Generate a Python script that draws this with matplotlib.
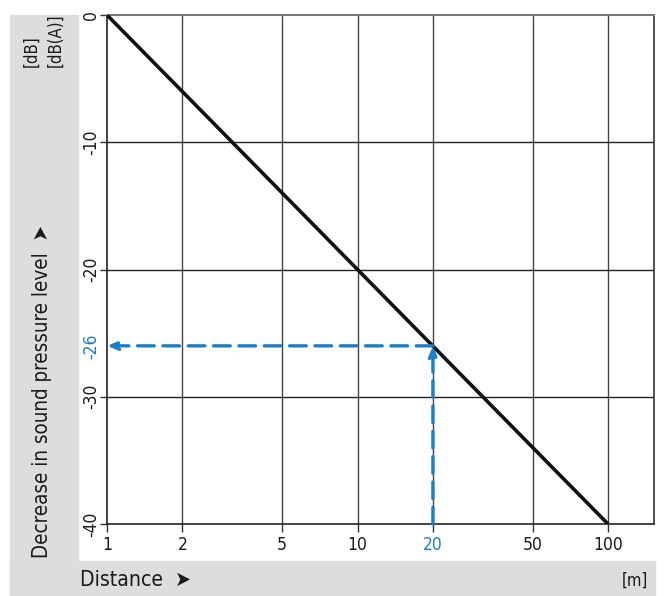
import matplotlib
matplotlib.use("Agg")
import matplotlib.pyplot as plt
from matplotlib.patches import Rectangle

# Data
distance = [1, 100]
decrease = [0, -40]
xticks = [1, 2, 5, 10, 20, 50, 100]
xticklabels = ["1", "2", "5", "10", "20", "50", "100"]
yticks = [0, -10, -20, -30, -40]
yticklabels = ["0", "-10", "-20", "-30", "-40"]
example_distance = 20
example_level = -26

FONT = ["DejaVu Sans"]
plt.rcParams["font.family"] = FONT
plt.rcParams["font.stretch"] = "condensed"
BLUE = "#1a7fc9"
INK = "#1a1a1a"

W, H = 667, 596
fig = plt.figure(figsize=(W / 100, H / 100), dpi=100)
fig.patch.set_facecolor("white")

def fx(px):
    return px / W

def fy(py):
    return 1 - py / H

gray = "#dcdddf"
fig.patches.append(Rectangle((fx(10), fy(596)), fx(78) - fx(10), fy(15) - fy(596),
                             transform=fig.transFigure, color=gray, zorder=0))
fig.patches.append(Rectangle((fx(10), fy(596)), fx(655) - fx(10), fy(561) - fy(596),
                             transform=fig.transFigure, color=gray, zorder=0))

ax = fig.add_axes([fx(107), fy(524), fx(654) - fx(107), fy(15) - fy(524)])
ax.set_facecolor("none")
ax.set_xscale("log")
ax.set_xlim(1, 10 ** ((654 - 107) / (608 - 107) * 2))
ax.set_ylim(-40, 0)

for x in xticks[1:]:
    ax.axvline(x, color="#444444", lw=1.0, zorder=1)
for y in yticks[1:-1]:
    ax.axhline(y, color="#222222", lw=1.0, zorder=1)

for s in ["left", "bottom"]:
    ax.spines[s].set_color("#222222")
    ax.spines[s].set_linewidth(1.2)
ax.spines["top"].set_color("#777777")
ax.spines["top"].set_linewidth(1.5)
ax.spines["right"].set_color("#333333")
ax.spines["right"].set_linewidth(1.2)

ax.set_xticks(xticks)
ax.set_xticklabels(xticklabels)
ax.xaxis.set_minor_locator(matplotlib.ticker.NullLocator())
ax.set_yticks(yticks)
ax.set_yticklabels([])
ax.tick_params(axis="both", direction="out", length=6, width=1.0, color="#333333",
               labelsize=12.5, pad=3, labelcolor=INK)
ax.tick_params(axis="y", length=5)
for lbl in ax.get_xticklabels():
    if lbl.get_text() == "20":
        lbl.set_color(BLUE)

# y tick labels, rotated
for v, t in zip(yticks, yticklabels):
    ax.annotate(t, xy=(1, v), xycoords="data", xytext=(-11.5, 0),
                textcoords="offset points", rotation=90, ha="center", va="center",
                color=INK, fontsize=12.5)
ax.annotate("-26", xy=(1, example_level), xycoords="data", xytext=(-11.5, 0),
            textcoords="offset points", rotation=90, ha="center", va="center",
            color=BLUE, fontsize=12.5)

# main line
ax.plot(distance, decrease, color="#111111", lw=2.6, zorder=3, solid_capstyle="butt")

# blue dashed arrows
arrowprops = dict(arrowstyle="-|>,head_length=0.6,head_width=0.25", color=BLUE, lw=2.4,
                  linestyle=(0, (5, 2.6)), shrinkA=0, shrinkB=0)
ax.annotate("", xy=(1, example_level), xytext=(example_distance, example_level),
            arrowprops=arrowprops, zorder=4)
ax.annotate("", xy=(example_distance, example_level), xytext=(example_distance, -40),
            arrowprops=arrowprops, zorder=4)

# labels
fig.text(fx(42), fy(392), "Decrease in sound pressure level  \u27a4", rotation=90,
         ha="center", va="center", fontsize=14.8, color=INK, fontweight="medium")
fig.text(fx(31), fy(67), "[dB]", rotation=90, ha="center", va="bottom", fontsize=12,
         color=INK)
fig.text(fx(55), fy(67), "[dB(A)]", rotation=90, ha="center", va="bottom", fontsize=12,
         color=INK)
fig.text(fx(80), fy(580), "Distance  \u27a4", ha="left", va="center", fontsize=15.2,
         color=INK)
fig.text(fx(648), fy(581), "[m]", ha="right", va="center", fontsize=12, color=INK)

fig.savefig("out.png", dpi=100)
